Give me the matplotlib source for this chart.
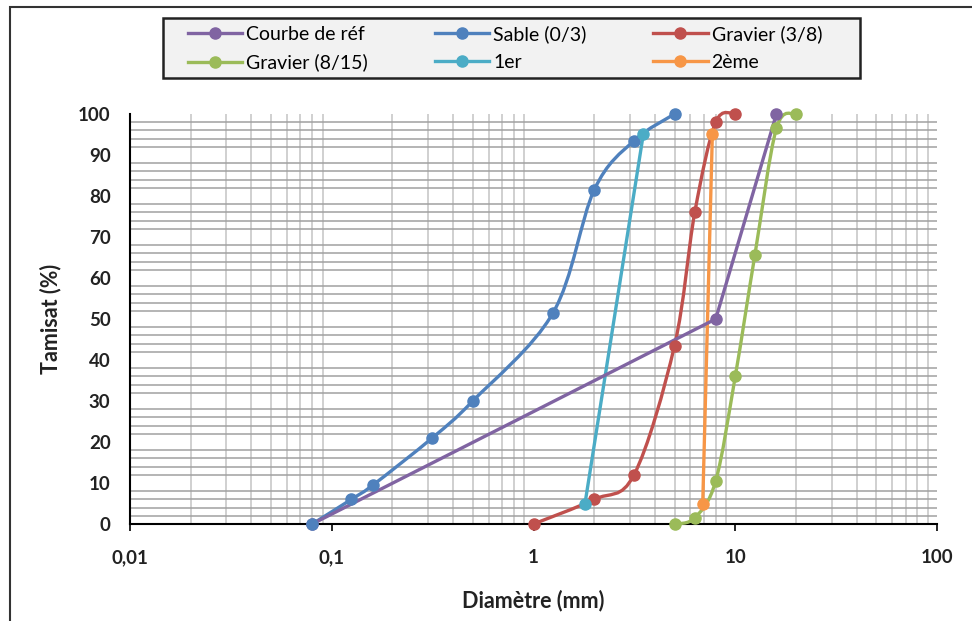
import numpy as np
import matplotlib
matplotlib.use("Agg")
import matplotlib.pyplot as plt
from matplotlib.path import Path
from matplotlib.patches import PathPatch, Rectangle
from matplotlib.lines import Line2D
from matplotlib.ticker import FixedLocator, FuncFormatter, NullFormatter

# courbes granulométriques (diamètre en mm, tamisat en %)
ref_x = [0.08, 8, 16]
ref_y = [0, 50, 100]
sable_x = [0.08, 0.125, 0.16, 0.315, 0.5, 1.25, 2, 3.15, 5]
sable_y = [0, 6, 9.5, 21, 30, 51.5, 81.5, 93.5, 100]
g38_x = [1, 2, 3.15, 5, 6.3, 8, 10]
g38_y = [0, 6, 12, 43.5, 76, 98, 100]
g815_x = [5, 6.3, 8, 10, 12.5, 16, 20]
g815_y = [0, 1.5, 10.5, 36, 65.5, 96.5, 100]
first_x = [1.8, 3.5]
first_y = [5, 95]
second_x = [6.9, 7.7]
second_y = [5, 95]

names = ["Courbe de réf", "Sable (0/3)", "Gravier (3/8)",
         "Gravier (8/15)", "1er", "2ème"]
colors = ["#8064A2", "#4F81BD", "#C0504D", "#9BBB59", "#4BACC6", "#F79646"]
smooth = [False, True, True, True, True, True]

x_ticks = [0.01, 0.1, 1, 10, 100]
x_labels = ["0,01", "0,1", "1", "10", "100"]

FONT = ["Lato", "DejaVu Sans"]


def smooth_path(x, y, t=1 / 6):
    # courbe de Bézier lissée (type Excel), calculée en log10(x)
    lx = np.log10(x)
    y = np.asarray(y, float)
    n = len(lx)
    verts = [(x[0], y[0])]
    codes = [Path.MOVETO]
    for i in range(n - 1):
        i0 = max(i - 1, 0)
        i3 = min(i + 2, n - 1)
        c1 = (lx[i] + (lx[i + 1] - lx[i0]) * t, y[i] + (y[i + 1] - y[i0]) * t)
        c2 = (lx[i + 1] - (lx[i3] - lx[i]) * t, y[i + 1] - (y[i3] - y[i]) * t)
        verts += [(10 ** c1[0], c1[1]), (10 ** c2[0], c2[1]), (x[i + 1], y[i + 1])]
        codes += [Path.CURVE4] * 3
    return Path(verts, codes)


W, H = 972, 621
fig = plt.figure(figsize=(W / 100, H / 100), dpi=100)
ax = fig.add_axes([130 / W, 1 - 524 / H, (937 - 130) / W, (524 - 114) / H])

ax.set_xscale("log")
ax.set_xlim(0.01, 100)
ax.set_ylim(0, 100)

series = [(ref_x, ref_y), (sable_x, sable_y), (g38_x, g38_y),
          (g815_x, g815_y), (first_x, first_y), (second_x, second_y)]
lw = 2.4
ms = 8
for (xs, ys), c, sm in zip(series, colors, smooth):
    if sm:
        patch = PathPatch(smooth_path(xs, ys), facecolor="none", edgecolor=c,
                          lw=lw, clip_on=False, zorder=3, capstyle="round")
        ax.add_patch(patch)
        ax.plot(xs, ys, ls="none", marker="o", ms=ms, color=c, clip_on=False, zorder=4)
    else:
        ax.plot(xs, ys, "-o", lw=lw, ms=ms, color=c, clip_on=False, zorder=4)

# grille
ax.yaxis.set_minor_locator(FixedLocator(np.arange(0, 101, 2)))
minor_x = [m * 10.0 ** e for e in range(-2, 2) for m in range(1, 10)]
ax.xaxis.set_minor_locator(FixedLocator(minor_x))
ax.xaxis.set_minor_formatter(NullFormatter())
ax.grid(True, which="minor", axis="y", color="#a0a0a0", lw=1.1)
ax.grid(True, which="minor", axis="x", color="#c4c4c4", lw=1.1)
ax.grid(False, which="major")
ax.tick_params(which="minor", length=0)
ax.set_axisbelow(True)

ax.xaxis.set_major_locator(FixedLocator(x_ticks))
ax.xaxis.set_major_formatter(FuncFormatter(lambda v, p: x_labels[x_ticks.index(v)] if v in x_ticks else ""))
ax.set_yticks(np.arange(0, 101, 10))
ax.tick_params(axis="x", which="major", direction="out", length=5, width=1.2,
               color="black", pad=13)
ax.tick_params(axis="y", which="major", length=0, pad=14)
for lab in ax.get_xticklabels() + ax.get_yticklabels():
    lab.set_family(FONT)
    lab.set_fontsize(13.5)
    lab.set_fontweight("bold")
    lab.set_color("#222222")

for s in ["top", "right"]:
    ax.spines[s].set_visible(False)
for s in ["left", "bottom"]:
    ax.spines[s].set_color("black")
    ax.spines[s].set_linewidth(1.5)

ax.set_xlabel("Diamètre (mm)", family=FONT, fontsize=15.5, fontweight="bold",
              color="#222222", labelpad=17)
ax.set_ylabel("Tamisat (%)", family=FONT, fontsize=15.5, fontweight="bold",
              color="#222222", labelpad=12)

# cadre de la légende
fig.patches.append(Rectangle((163 / W, 1 - 78 / H), (860 - 163) / W, 60 / H,
                             transform=fig.transFigure, facecolor="#f2f2f2",
                             edgecolor="#222222", lw=1.8, zorder=1))

# légende remplie ligne par ligne (3 colonnes)
order = [0, 3, 1, 4, 2, 5]
handles = [Line2D([], [], color=colors[i], lw=lw, marker="o", ms=ms) for i in order]
labels = [names[i] for i in order]
leg = fig.legend(handles, labels, ncol=3, loc="upper left",
                 bbox_to_anchor=(188 / W, 1 - 25 / H, (822 - 188) / W, 0),
                 mode="expand", frameon=False, handlelength=2.8,
                 handletextpad=0.2, borderpad=0, labelspacing=0.55,
                 borderaxespad=0, prop={"family": FONT, "size": 14})
leg.set_zorder(2)

# cadre du graphique
fig.patches.append(Rectangle((10 / W, -0.1), 1.2, 1 - 7 / H + 0.1,
                             transform=fig.transFigure, fill=False,
                             edgecolor="#333333", lw=1.5))

fig.savefig("out.png", dpi=100)
